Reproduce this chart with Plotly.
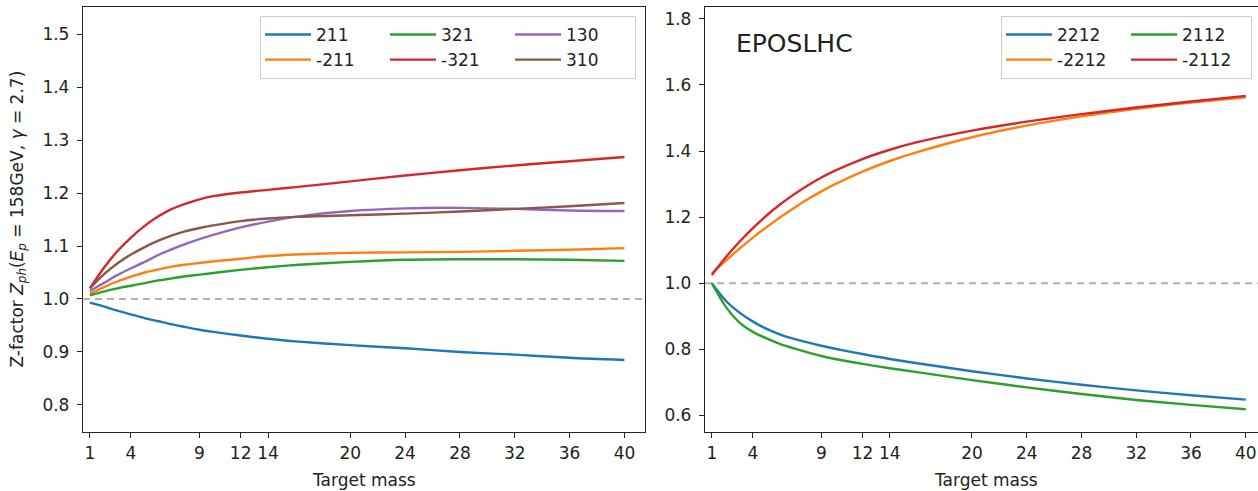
import plotly.graph_objects as go

# ---------------- data ----------------
mass = [1, 2, 3, 4, 5, 6, 7, 8, 9, 10, 12, 14, 16, 20, 24, 28, 32, 36, 40]
xticks = [1, 4, 9, 12, 14, 20, 24, 28, 32, 36, 40]

# left panel (mesons)
z_211 = [0.993, 0.986, 0.978, 0.971, 0.964, 0.958, 0.952, 0.947, 0.942, 0.938, 0.931, 0.925, 0.920, 0.913, 0.907, 0.900, 0.895, 0.889, 0.885]
z_m211 = [1.010, 1.022, 1.033, 1.042, 1.050, 1.056, 1.061, 1.065, 1.068, 1.071, 1.076, 1.081, 1.084, 1.087, 1.088, 1.089, 1.091, 1.093, 1.096]
z_321 = [1.007, 1.014, 1.020, 1.025, 1.030, 1.035, 1.039, 1.043, 1.046, 1.049, 1.055, 1.060, 1.064, 1.070, 1.074, 1.075, 1.075, 1.074, 1.072]
z_m321 = [1.020, 1.058, 1.090, 1.116, 1.138, 1.156, 1.170, 1.180, 1.188, 1.194, 1.201, 1.206, 1.211, 1.222, 1.233, 1.243, 1.252, 1.260, 1.268]
z_130 = [1.015, 1.030, 1.045, 1.058, 1.070, 1.083, 1.094, 1.104, 1.113, 1.121, 1.135, 1.146, 1.155, 1.166, 1.171, 1.172, 1.170, 1.167, 1.166]
z_310 = [1.020, 1.046, 1.067, 1.084, 1.098, 1.110, 1.120, 1.128, 1.134, 1.139, 1.147, 1.152, 1.155, 1.158, 1.161, 1.165, 1.170, 1.175, 1.181]

# right panel (baryons)
z_2212 = [1.000, 0.948, 0.912, 0.884, 0.862, 0.845, 0.832, 0.821, 0.811, 0.802, 0.786, 0.771, 0.758, 0.734, 0.712, 0.693, 0.676, 0.661, 0.648]
z_m2212 = [1.030, 1.068, 1.104, 1.138, 1.170, 1.200, 1.228, 1.254, 1.278, 1.300, 1.338, 1.370, 1.397, 1.442, 1.477, 1.505, 1.528, 1.547, 1.563]
z_2112 = [1.000, 0.930, 0.882, 0.853, 0.833, 0.816, 0.803, 0.791, 0.780, 0.771, 0.756, 0.743, 0.731, 0.707, 0.685, 0.665, 0.647, 0.632, 0.619]
z_m2112 = [1.025, 1.078, 1.125, 1.167, 1.205, 1.239, 1.269, 1.296, 1.320, 1.341, 1.376, 1.404, 1.427, 1.462, 1.489, 1.512, 1.532, 1.550, 1.567]

left_names = ["211", "-211", "321", "-321", "130", "310"]
left_vals = [z_211, z_m211, z_321, z_m321, z_130, z_310]
left_groups = ["c1", "c1", "c2", "c2", "c3", "c3"]
right_names = ["2212", "-2212", "2112", "-2112"]
right_vals = [z_2212, z_m2212, z_2112, z_m2112]
right_groups = ["c1", "c1", "c2", "c2"]
colors = ["#1f77b4", "#ff7f0e", "#2ca02c", "#d62728", "#9467bd", "#8c564b"]

# ---------------- layout geometry ----------------
W, H = 1258, 491
ML, MR, MT, MB = 83, 0, 7, 59
PW = W - ML - MR
PH = H - MT - MB


def px_x(px):
    return (px - ML) / PW


def px_y(py):
    return (H - MB - py) / PH


FONT = "DejaVu Sans"
TXT = "#222222"
FS = 17

fig = go.Figure()

for name, vals, grp, col in zip(left_names, left_vals, left_groups, colors):
    fig.add_trace(go.Scatter(
        x=mass, y=vals, mode="lines", name=name, legendgroup=grp,
        line=dict(color=col, width=2.4, shape="spline", smoothing=0.8),
        xaxis="x", yaxis="y", legend="legend"))

for name, vals, grp, col in zip(right_names, right_vals, right_groups, colors):
    fig.add_trace(go.Scatter(
        x=mass, y=vals, mode="lines", name=name, legendgroup=grp,
        line=dict(color=col, width=2.4, shape="spline", smoothing=0.8),
        xaxis="x2", yaxis="y2", legend="legend2"))

axis_common = dict(
    showgrid=False, zeroline=False, showline=True, linecolor="#222222", linewidth=1.3,
    ticks="outside", ticklen=5, tickwidth=1.3, tickcolor="#222222",
    tickfont=dict(family=FONT, size=FS, color=TXT),
)

legend_common = dict(
    orientation="h", xanchor="right", y=px_y(16), yanchor="top",
    bgcolor="rgba(255,255,255,0.8)", bordercolor="#cccccc", borderwidth=1,
    font=dict(family=FONT, size=FS, color=TXT), itemwidth=46,
    entrywidth=64, entrywidthmode="pixels", tracegroupgap=0,
)

fig.update_layout(
    width=W, height=H,
    margin=dict(l=ML, r=MR, t=MT, b=MB),
    paper_bgcolor="white", plot_bgcolor="white",
    font=dict(family=FONT, size=FS, color=TXT),
    xaxis=dict(domain=[0, px_x(645)], range=[0.5, 41.5], tickvals=xticks,
               mirror=True, **axis_common),
    yaxis=dict(domain=[0, 1], range=[0.749, 1.551], tickvals=[0.8, 0.9, 1.0, 1.1, 1.2, 1.3, 1.4, 1.5],
               tickformat=".1f", mirror=True, ticklabelstandoff=4, **axis_common),
    xaxis2=dict(domain=[px_x(705), 1], range=[0.5, 0.5 + (W - 705) / 13.69], tickvals=xticks,
                mirror=True, anchor="y2", **axis_common),
    yaxis2=dict(domain=[0, 1], range=[0.55, 1.836], tickvals=[0.6, 0.8, 1.0, 1.2, 1.4, 1.6, 1.8],
                tickformat=".1f", anchor="x2", mirror=False, ticklabelstandoff=4, **axis_common),
    legend=dict(x=px_x(636), **legend_common),
    legend2=dict(x=px_x(1252), **legend_common),
    showlegend=True,
)

# dashed reference line at Z = 1
for xr, yr in (("x", "y"), ("x2", "y2")):
    fig.add_shape(type="line", xref=f"{xr} domain", yref=yr, x0=0, x1=1, y0=1.0, y1=1.0,
                  line=dict(color="#b0b0b0", width=2, dash="7px,5px"), layer="below")

# axis titles and panel label
fig.add_annotation(text="Target mass", xref="paper", yref="paper", x=px_x(364), y=px_y(480),
                   xanchor="center", yanchor="middle", showarrow=False,
                   font=dict(family=FONT, size=FS, color=TXT))
fig.add_annotation(text="Target mass", xref="paper", yref="paper", x=px_x(986), y=px_y(480),
                   xanchor="center", yanchor="middle", showarrow=False,
                   font=dict(family=FONT, size=FS, color=TXT))
fig.add_annotation(
    text="Z-factor <i>Z</i><sub><i>ph</i></sub>(<i>E</i><sub><i>p</i></sub> = 158GeV, <i>γ</i> = 2.7)",
    xref="paper", yref="paper", x=px_x(18), y=0.5, textangle=-90,
    xanchor="center", yanchor="middle", showarrow=False,
    font=dict(family=FONT, size=FS, color=TXT))
fig.add_annotation(text="EPOSLHC", xref="paper", yref="paper", x=px_x(734), y=px_y(43),
                   xanchor="left", yanchor="middle", showarrow=False,
                   font=dict(family=FONT, size=25, color=TXT))

fig.write_html("out.html")
